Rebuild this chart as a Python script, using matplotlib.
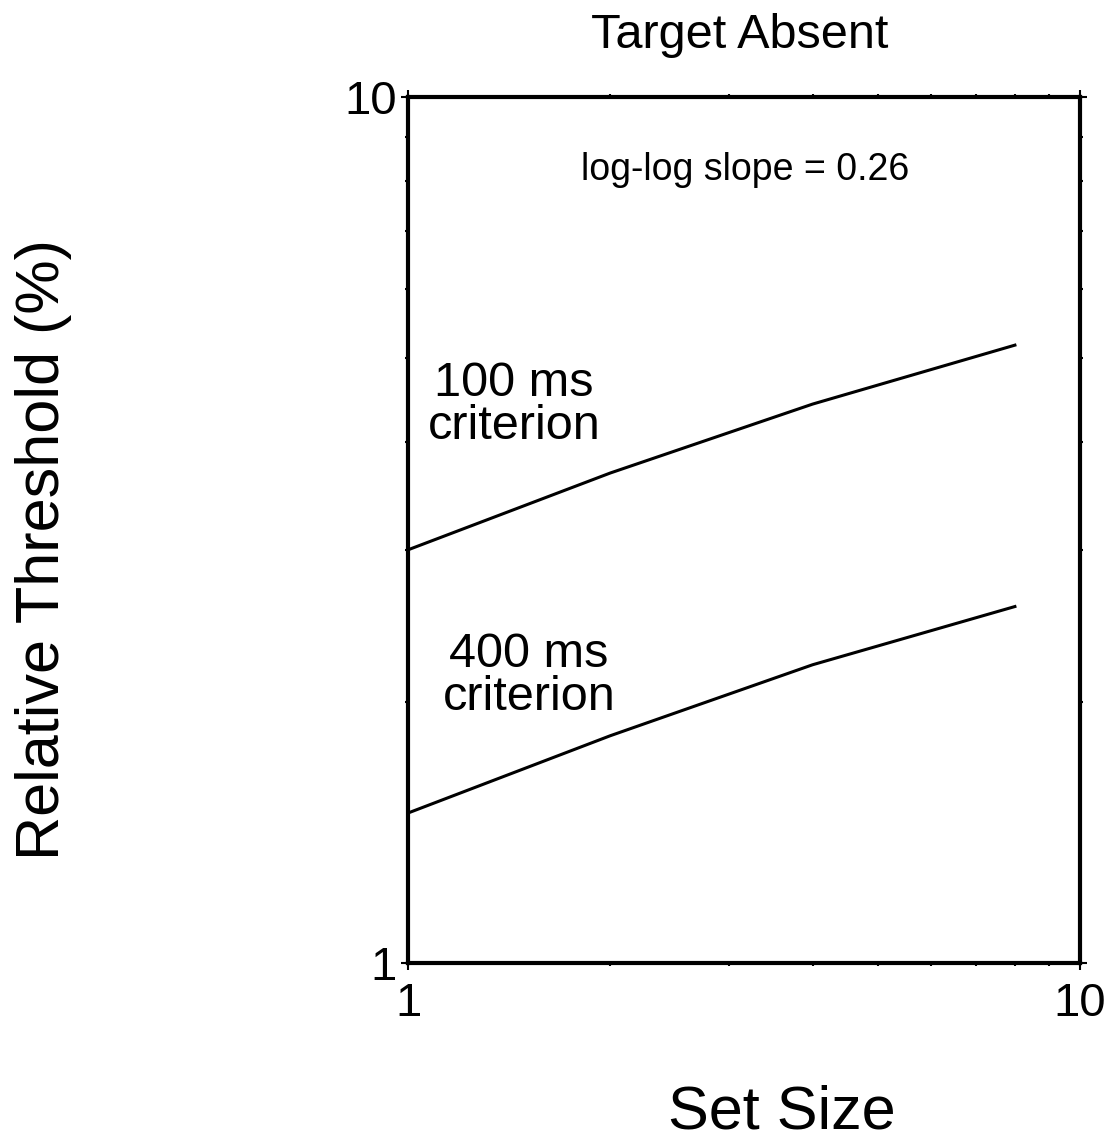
import matplotlib.pyplot as plt
from matplotlib.ticker import FixedLocator, NullFormatter

plt.rcParams['font.family'] = ['Liberation Sans', 'DejaVu Sans']

# set sizes and relative thresholds (%)
set_size = [1, 2, 4, 8]
thresh_100ms = [3.00, 3.68, 4.42, 5.17]
thresh_400ms = [1.49, 1.83, 2.21, 2.58]


def main():
    fig = plt.figure(figsize=(11.10, 11.43), dpi=100)
    ax = fig.add_axes([0.3676, 0.1575, 0.6054, 0.7576])

    ax.plot(set_size, thresh_100ms, color='black', linewidth=2.2)
    ax.plot(set_size, thresh_400ms, color='black', linewidth=2.2)

    ax.set_xscale('log')
    ax.set_yscale('log')
    ax.set_xlim(1, 10)
    ax.set_ylim(1, 10)

    for side in ax.spines.values():
        side.set_linewidth(3)

    ax.xaxis.set_major_locator(FixedLocator([1, 10]))
    ax.yaxis.set_major_locator(FixedLocator([1, 10]))
    ax.xaxis.set_minor_locator(FixedLocator(range(2, 10)))
    ax.yaxis.set_minor_locator(FixedLocator(range(2, 10)))
    ax.xaxis.set_minor_formatter(NullFormatter())
    ax.yaxis.set_minor_formatter(NullFormatter())
    ax.set_xticklabels(['1', '10'])
    ax.set_yticklabels(['1', '10'])
    ax.tick_params(which='both', direction='out', top=True, right=True,
                   width=1.5, labelsize=34)
    ax.tick_params(which='major', length=5, pad=3)
    ax.tick_params(which='minor', length=2.5)
    ax.tick_params(axis='x', which='major', pad=9)

    ax.set_xlabel('Set Size', fontsize=44)
    ax.xaxis.set_label_coords(0.556, -0.140)
    ax.set_ylabel('Relative Threshold (%)', fontsize=44)
    ax.yaxis.set_label_coords(-0.50, 0.477)

    ax.text(0.494, 1.057, 'Target Absent', transform=ax.transAxes,
            ha='center', va='baseline', fontsize=35)
    ax.text(0.501, 0.916, 'log-log slope = 0.26', transform=ax.transAxes,
            ha='center', va='center', fontsize=27)
    ax.text(0.158, 0.644, '100 ms\ncriterion', transform=ax.transAxes,
            ha='center', va='center', fontsize=35, linespacing=0.95)
    ax.text(0.180, 0.331, '400 ms\ncriterion', transform=ax.transAxes,
            ha='center', va='center', fontsize=35, linespacing=0.95)

    fig.savefig('out.png', dpi=100)


if __name__ == '__main__':
    main()
